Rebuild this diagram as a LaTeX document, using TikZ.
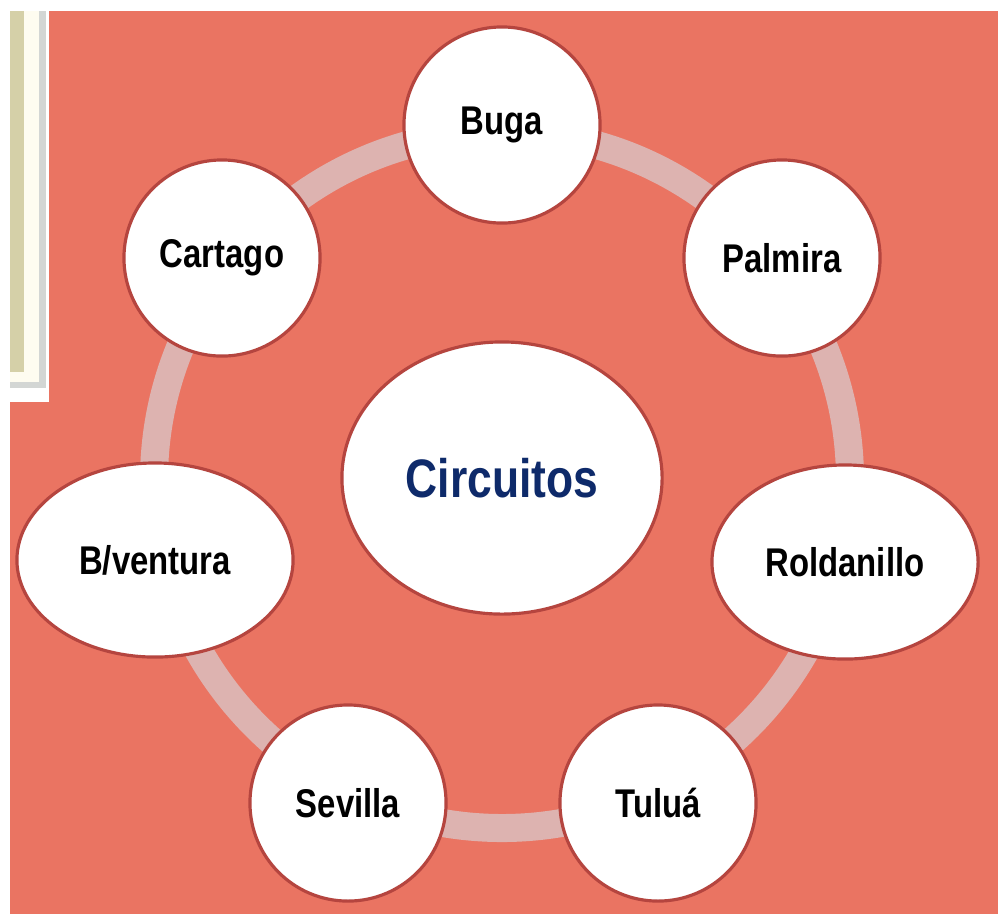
\documentclass[tikz,border=0pt]{standalone}
\usepackage{fontspec}
\setmainfont{Liberation Sans}[FakeStretch=0.82]
\usetikzlibrary{shapes.geometric}

\definecolor{salmon}{HTML}{EA7462}
\definecolor{rimred}{HTML}{B5453F}
\definecolor{ringpink}{HTML}{DDB3B0}
\definecolor{navy}{HTML}{0E2A6A}
\definecolor{panelbeige}{HTML}{D5D0A8}
\definecolor{panelcream}{HTML}{FEFCF0}
\definecolor{panelgray}{HTML}{D3D6D4}

\tikzset{
    town/.style={circle, draw=rimred, fill=white, line width=0.9pt,
        minimum size=1.96cm, inner sep=0pt,
        font=\fontsize{11.4}{13}\selectfont\bfseries},
    wide town/.style={town, ellipse, minimum width=2.7cm, minimum height=1.94cm},
    hub/.style={ellipse, draw=rimred, fill=white, line width=0.9pt,
        minimum width=3.2cm, minimum height=2.72cm, inner sep=0pt,
        text=navy, font=\fontsize{15.4}{18}\selectfont\bfseries},
    ring/.style={ringpink, line width=0.28cm}
}

\begin{document}
\begin{tikzpicture}[x=0.01cm, y=-0.01cm]

        \useasboundingbox (0,0) rectangle (998,914);

        % background and left panel
        \fill[salmon] (10,11) rectangle (998,914);
        \fill[white] (10,11) rectangle (49,402);
        \fill[panelcream] (10,11) rectangle (40,384);
        \fill[panelbeige] (10,11) rectangle (24,372);
        \fill[panelgray] (39,11) rectangle (46,388);
        \fill[panelgray] (10,382) rectangle (46,388);

        % ring behind the towns
        \coordinate (centre) at (502,480);
        \draw[ring] (centre) circle[radius=348];

        \node[hub] (circuitos) at (502,478) {Circuitos};

        \node[town] (buga) at (502,125) {Buga};
        \node[town] (palmira) at (782,258) {Palmira};
        \node[wide town, minimum width=2.66cm] (roldanillo) at (845,562) {Roldanillo};
        \node[town] (tulua) at (658,803) {Tuluá};
        \node[town] (sevilla) at (348,803) {Sevilla};
        \node[wide town, minimum width=2.76cm] (bventura) at (155,560) {B/ventura};
        \node[town] (cartago) at (222,258) {Cartago};

\end{tikzpicture}
\end{document}
